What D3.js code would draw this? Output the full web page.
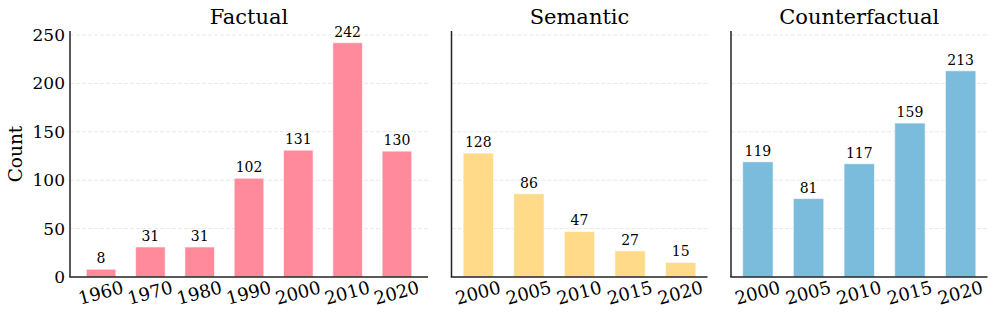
<!DOCTYPE html>
<html><head><meta charset="utf-8">
<script src="https://cdn.jsdelivr.net/npm/d3@7"></script>
<style>body{margin:0;background:#fff}svg{display:block}text{font-family:"DejaVu Serif",serif;fill:#000}</style>
</head><body><svg id="c" width="996" height="318"></svg>
<script>
const factualYears = ["1960","1970","1980","1990","2000","2010","2020"];
const factualCounts = [8,31,31,102,131,242,130];
const semanticYears = ["2000","2005","2010","2015","2020"];
const semanticCounts = [128,86,47,27,15];
const counterYears = ["2000","2005","2010","2015","2020"];
const counterCounts = [119,81,117,159,213];
const yTicks = [0,50,100,150,200,250];
const titles = ["Factual","Semantic","Counterfactual"];
const colors = ["#FF8A9B","#FFDA88","#7BBCDD"];

const panels = [
  {title:titles[0], cats:factualYears, vals:factualCounts, color:colors[0], x0:70, x1:428},
  {title:titles[1], cats:semanticYears, vals:semanticCounts, color:colors[1], x0:451.5, x1:707.5},
  {title:titles[2], cats:counterYears, vals:counterCounts, color:colors[2], x0:731, x1:987.5}
];
const svg = d3.select("#c");
const yBottom = 277, yTop = 31;
const yMax = d3.max([...factualCounts,...semanticCounts,...counterCounts]) * 1.05;
const y = d3.scaleLinear().domain([0,yMax]).range([yBottom,yTop]);

panels.forEach((p,i)=>{
  const n = p.cats.length;
  const x = d3.scaleBand().domain(p.cats).range([p.x0,p.x1])
    .paddingInner(0.4).paddingOuter(0.05*(n-0.4));
  const g = svg.append("g");
  g.selectAll("line.grid").data(yTicks.filter(t=>t>0)).join("line")
    .attr("x1",p.x0).attr("x2",p.x1).attr("y1",d=>y(d)).attr("y2",d=>y(d))
    .attr("stroke","#e2e2e2").attr("stroke-width",0.8).attr("stroke-dasharray","4,2");
  g.selectAll("rect").data(p.vals).join("rect")
    .attr("x",(d,j)=>x(p.cats[j])).attr("width",x.bandwidth())
    .attr("y",d=>y(d)).attr("height",d=>yBottom-y(d))
    .attr("fill",p.color).attr("stroke","#fff").attr("stroke-opacity",0.6).attr("stroke-width",1);
  g.selectAll("text.v").data(p.vals).join("text")
    .attr("x",(d,j)=>x(p.cats[j])+x.bandwidth()/2).attr("y",d=>y(d)-6)
    .attr("text-anchor","middle").attr("font-size",14).text(d=>d);
  g.selectAll("text.xt").data(p.cats).join("text")
    .attr("transform",d=>`translate(${x(d)+x.bandwidth()/2},${yBottom+17}) rotate(-15)`)
    .attr("text-anchor","middle").attr("dominant-baseline","middle").attr("font-size",18).text(d=>d);
  g.append("line").attr("x1",p.x0).attr("x2",p.x0).attr("y1",yTop).attr("y2",yBottom)
    .attr("stroke","#222").attr("stroke-width",1.5);
  g.append("line").attr("x1",p.x0-0.75).attr("x2",p.x1).attr("y1",yBottom).attr("y2",yBottom)
    .attr("stroke","#222").attr("stroke-width",1.5);
  g.append("text").attr("x",(p.x0+p.x1)/2).attr("y",24).attr("text-anchor","middle")
    .attr("font-size",21).text(p.title);
  if(i===0){
    g.selectAll("text.yt").data(yTicks).join("text")
      .attr("x",p.x0-5).attr("y",d=>y(d)).attr("dy","0.35em")
      .attr("text-anchor","end").attr("font-size",17).text(d=>d);
    g.append("text").attr("transform",`translate(22,${(yTop+yBottom)/2}) rotate(-90)`)
      .attr("text-anchor","middle").attr("font-size",18.5).text("Count");
  }
});
</script></body></html>
